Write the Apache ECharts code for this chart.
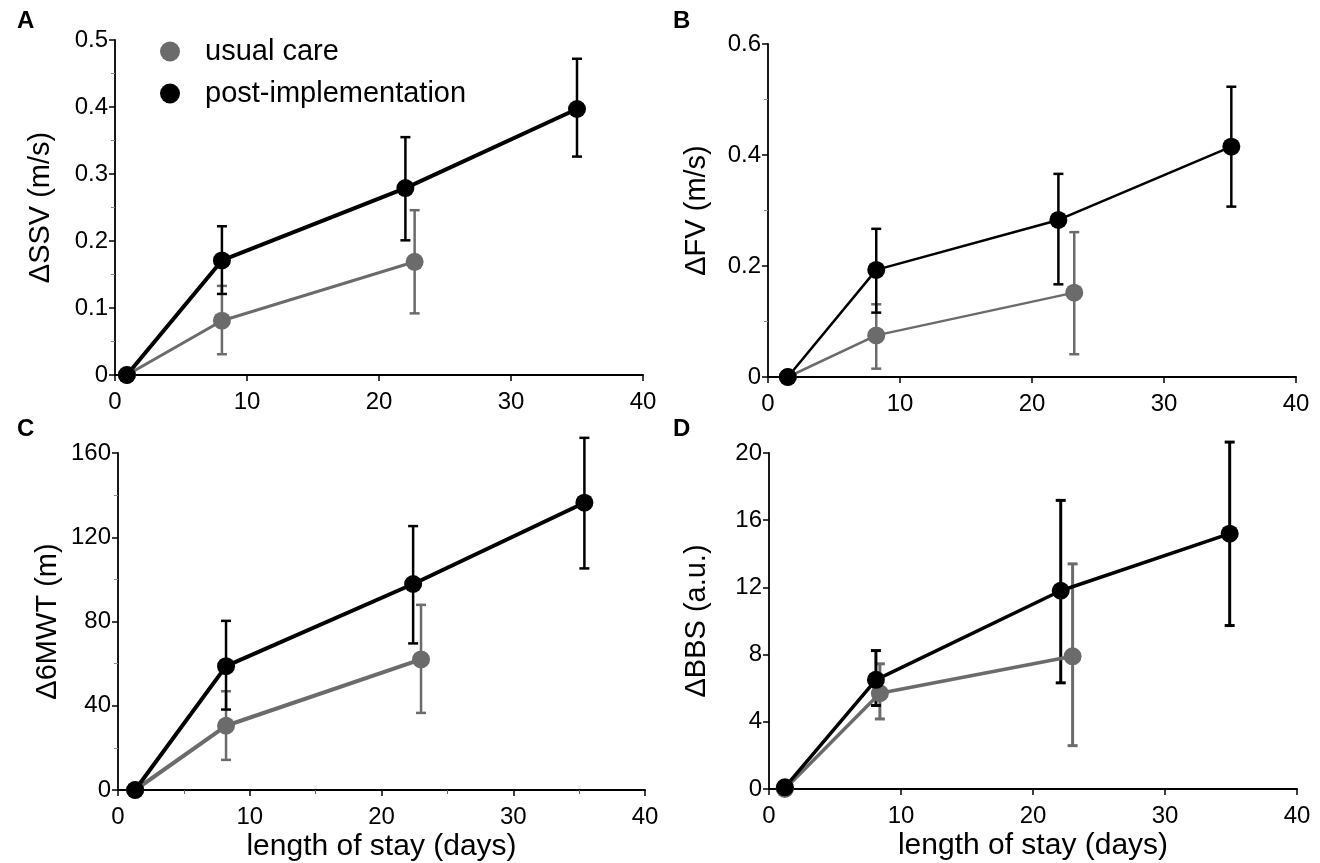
<!DOCTYPE html>
<html>
<head>
<meta charset="utf-8">
<script src="https://cdn.jsdelivr.net/npm/echarts@6/dist/echarts.min.js"></script>
<style>
  html, body { margin: 0; padding: 0; background: #fff; }
  #chart { width: 1320px; height: 863px; }
</style>
</head>
<body>
<div id="chart"></div>
<script>
// panel A: delta SSV (m/s)
const careXA = [0.9, 8.1, 22.7];
const careYA = [0, 0.081, 0.169];
const careLoA = [0, 0.031, 0.092];
const careHiA = [0, 0.133, 0.246];
const postXA = [0.9, 8.1, 22.0, 35.0];
const postYA = [0, 0.171, 0.279, 0.397];
const postLoA = [0, 0.121, 0.201, 0.326];
const postHiA = [0, 0.222, 0.355, 0.472];

// panel B: delta FV (m/s)
const careXB = [1.5, 8.2, 23.2];
const careYB = [0, 0.075, 0.152];
const careLoB = [0, 0.015, 0.041];
const careHiB = [0, 0.131, 0.261];
const postXB = [1.5, 8.2, 22.0, 35.1];
const postYB = [0, 0.193, 0.283, 0.415];
const postLoB = [0, 0.116, 0.167, 0.307];
const postHiB = [0, 0.267, 0.366, 0.523];

// panel C: delta 6MWT (m)
const careXC = [1.3, 8.2, 23.0];
const careYC = [0, 30.5, 62];
const careLoC = [0, 14.3, 36.6];
const careHiC = [0, 46.9, 87.9];
const postXC = [1.3, 8.2, 22.4, 35.4];
const postYC = [0, 58.8, 97.8, 136.4];
const postLoC = [0, 38.2, 69.6, 105.2];
const postHiC = [0, 80.3, 125.3, 167.2];

// panel D: delta BBS (a.u.)
const careXD = [1.2, 8.4, 23.0];
const careYD = [0, 5.7, 7.9];
const careLoD = [0, 4.17, 2.58];
const careHiD = [0, 7.45, 13.4];
const postXD = [1.2, 8.1, 22.1, 34.9];
const postYD = [0.1, 6.5, 11.8, 15.2];
const postLoD = [0, 4.97, 6.32, 9.73];
const postHiD = [0, 8.24, 17.18, 20.65];

const GRAY = '#6b6b6b';
const BLACK = '#000';
const FONT = 'Liberation Sans';

let myChart = echarts.init(document.getElementById('chart'));

function pts(xs, ys) {
    return xs.map(function (x, i) { return [x, ys[i]]; });
}

function errData(xs, lo, hi) {
    return xs.map(function (x, i) { return [x, lo[i], hi[i]]; });
}

function errorSeries(name, idx, data, color, width) {
    return {
        type: 'custom',
        name: name,
        xAxisIndex: idx,
        yAxisIndex: idx,
        clip: false,
        z: 1,
        silent: true,
        data: data,
        encode: { x: 0, y: [1, 2] },
        renderItem: function (params, api) {
            let x = api.value(0), lo = api.value(1), hi = api.value(2);
            if (lo === hi) return null;
            let p1 = api.coord([x, lo]);
            let p2 = api.coord([x, hi]);
            let cap = 5;
            let st = { stroke: color, lineWidth: width };
            return {
                type: 'group',
                children: [
                    { type: 'line', shape: { x1: p1[0], y1: p1[1], x2: p2[0], y2: p2[1] }, style: st },
                    { type: 'line', shape: { x1: p1[0] - cap, y1: p1[1], x2: p1[0] + cap, y2: p1[1] }, style: st },
                    { type: 'line', shape: { x1: p2[0] - cap, y1: p2[1], x2: p2[0] + cap, y2: p2[1] }, style: st }
                ]
            };
        }
    };
}

function lineSeries(name, idx, data, color, width) {
    return {
        type: 'line',
        name: name,
        xAxisIndex: idx,
        yAxisIndex: idx,
        data: data,
        z: 3,
        symbol: 'circle',
        symbolSize: 18,
        itemStyle: { color: color },
        lineStyle: { color: color, width: width },
        clip: false,
        animation: false
    };
}

const grids = [
    { left: 115, top: 40, width: 528, height: 335 },
    { left: 768, top: 44, width: 528, height: 333 },
    { left: 118, top: 453, width: 527, height: 337 },
    { left: 769, top: 453, width: 528, height: 336 }
];

const yDefs = [
    { max: 0.5, interval: 0.1, name: '\u0394SSV (m/s)', minor: true, gap: 60 },
    { max: 0.6, interval: 0.2, name: '\u0394FV (m/s)', minor: true, gap: 57 },
    { max: 160, interval: 40, name: '\u03946MWT (m)', minor: true, gap: 56 },
    { max: 20, interval: 4, name: '\u0394BBS (a.u.)', minor: false, gap: 58 }
];

let xAxes = grids.map(function (g, i) {
    return {
        type: 'value',
        gridIndex: i,
        min: 0,
        max: 40,
        interval: 10,
        name: i >= 2 ? 'length of stay (days)' : '',
        nameLocation: 'middle',
        nameGap: 42,
        nameTextStyle: { fontFamily: FONT, fontSize: 30, color: '#000' },
        axisLine: { lineStyle: { color: '#000', width: 2 } },
        axisTick: { length: 6, lineStyle: { color: '#000', width: 1.5 } },
        minorTick: { show: i === 2, splitNumber: 2, length: 4, lineStyle: { color: '#666' } },
        axisLabel: { fontFamily: FONT, fontSize: 24, color: '#000', margin: 15 },
        splitLine: { show: false }
    };
});

let yAxes = yDefs.map(function (d, i) {
    return {
        type: 'value',
        gridIndex: i,
        min: 0,
        max: d.max,
        interval: d.interval,
        name: d.name,
        nameLocation: 'middle',
        nameGap: d.gap,
        nameTextStyle: { fontFamily: FONT, fontSize: 29, color: '#000' },
        axisLine: { lineStyle: { color: '#000', width: 1.8 } },
        axisTick: { length: 6, lineStyle: { color: '#000', width: 1.5 } },
        minorTick: { show: d.minor, splitNumber: 2, length: 4, lineStyle: { color: '#888' } },
        axisLabel: { fontFamily: FONT, fontSize: 24, color: '#000', margin: 7 },
        splitLine: { show: false }
    };
});

let series = [
    errorSeries('usual care', 0, errData(careXA, careLoA, careHiA), GRAY, 2.5),
    errorSeries('post-implementation', 0, errData(postXA, postLoA, postHiA), BLACK, 2.5),
    lineSeries('usual care', 0, pts(careXA, careYA), GRAY, 3),
    lineSeries('post-implementation', 0, pts(postXA, postYA), BLACK, 4),

    errorSeries('usual care', 1, errData(careXB, careLoB, careHiB), GRAY, 2.5),
    errorSeries('post-implementation', 1, errData(postXB, postLoB, postHiB), BLACK, 2.5),
    lineSeries('usual care', 1, pts(careXB, careYB), GRAY, 2.5),
    lineSeries('post-implementation', 1, pts(postXB, postYB), BLACK, 2.5),

    errorSeries('usual care', 2, errData(careXC, careLoC, careHiC), GRAY, 2.5),
    errorSeries('post-implementation', 2, errData(postXC, postLoC, postHiC), BLACK, 2.5),
    lineSeries('usual care', 2, pts(careXC, careYC), GRAY, 4),
    lineSeries('post-implementation', 2, pts(postXC, postYC), BLACK, 4),

    errorSeries('usual care', 3, errData(careXD, careLoD, careHiD), GRAY, 3),
    errorSeries('post-implementation', 3, errData(postXD, postLoD, postHiD), BLACK, 3),
    lineSeries('usual care', 3, pts(careXD, careYD), GRAY, 3.5),
    lineSeries('post-implementation', 3, pts(postXD, postYD), BLACK, 3.5)
];

let letterStyle = { fontFamily: FONT, fontSize: 24, fontWeight: 'bold', color: '#000' };

let option = {
    backgroundColor: '#fff',
    animation: false,
    title: [
        { text: 'A', left: 12, top: 4, textStyle: letterStyle },
        { text: 'B', left: 668, top: 4, textStyle: letterStyle },
        { text: 'C', left: 12, top: 412, textStyle: letterStyle },
        { text: 'D', left: 668, top: 412, textStyle: letterStyle }
    ],
    legend: {
        data: [
            { name: 'usual care', itemStyle: { color: GRAY } },
            { name: 'post-implementation', itemStyle: { color: BLACK } }
        ],
        orient: 'vertical',
        left: 155,
        top: 32,
        icon: 'circle',
        itemWidth: 20,
        itemHeight: 20,
        itemGap: 13,
        textStyle: { fontFamily: FONT, fontSize: 29, color: '#000', padding: [0, 0, 0, 20] }
    },
    grid: grids,
    xAxis: xAxes,
    yAxis: yAxes,
    series: series
};

myChart.setOption(option);
</script>
</body>
</html>
